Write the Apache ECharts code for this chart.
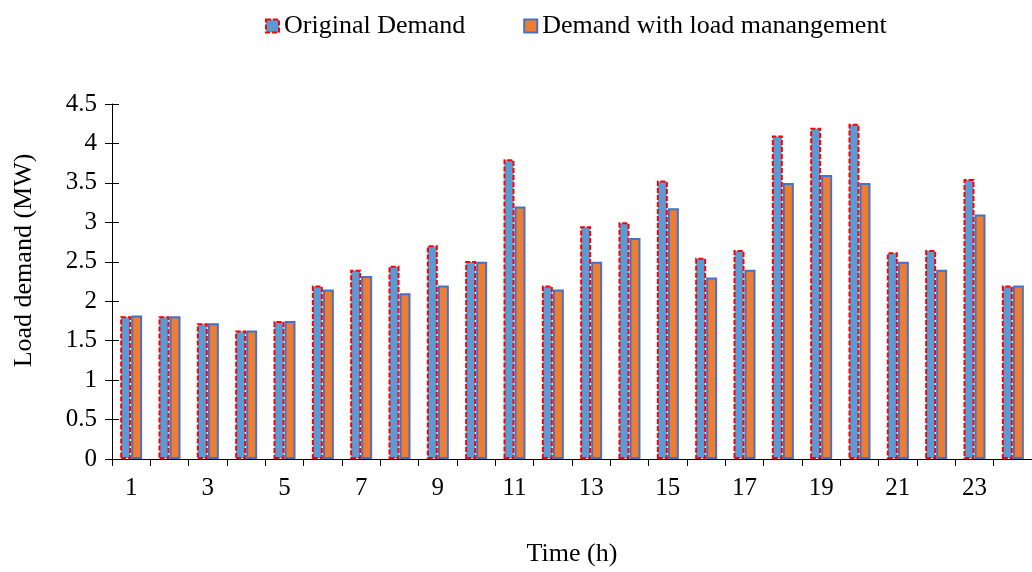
<!DOCTYPE html>
<html><head><meta charset="utf-8">
<script src="https://cdn.jsdelivr.net/npm/echarts@6/dist/echarts.min.js"></script>
<style>html,body{margin:0;padding:0;background:#fff}#c{width:1032px;height:572px}</style>
</head><body><div id="c"></div>
<script>
const hours = ['1','2','3','4','5','6','7','8','9','10','11','12','13','14','15','16','17','18','19','20','21','22','23','24'];
const originalDemand = [1.81,1.81,1.72,1.63,1.75,2.20,2.40,2.45,2.71,2.51,3.80,2.20,2.95,3.00,3.53,2.55,2.65,4.10,4.20,4.25,2.62,2.65,3.55,2.20];
const managedDemand  = [1.82,1.81,1.72,1.63,1.75,2.15,2.32,2.10,2.20,2.50,3.20,2.15,2.50,2.80,3.18,2.30,2.40,3.50,3.60,3.50,2.50,2.40,3.10,2.20];
const seriesNames = ['Original Demand','Demand with load manangement'];

const FONT = 'Liberation Serif';
const origStyle = {color:'#5B9BD5', borderColor:'#FF0000', borderWidth:2, borderType:[5,2]};
const manStyle = {color:'#ED7D31', borderColor:'#4472C4', borderWidth:2, borderType:'solid'};

const chart = echarts.init(document.getElementById('c'), null, {renderer:'canvas'});
chart.setOption({
  animation:false,
  backgroundColor:'#fff',
  textStyle:{fontFamily:FONT, color:'#000'},
  legend:{
    left:260, top:8, itemWidth:13, itemHeight:13, itemGap:58, icon:'rect',
    textStyle:{fontFamily:FONT, fontSize:26, color:'#000', padding:[0,0,0,0]},
    data:[
      {name:seriesNames[0], itemStyle:origStyle},
      {name:seriesNames[1], itemStyle:manStyle}
    ]
  },
  grid:{left:112, right:-2, top:104, bottom:112, containLabel:false},
  xAxis:{
    type:'category', data:hours, boundaryGap:true,
    axisLine:{lineStyle:{color:'#000', width:1}},
    axisTick:{show:true, interval:0, length:7, lineStyle:{color:'#000'}},
    axisLabel:{interval:1, fontFamily:FONT, fontSize:25, color:'#000', margin:17},
    name:'Time (h)', nameLocation:'middle', nameGap:82,
    nameTextStyle:{fontFamily:FONT, fontSize:26, color:'#000'}
  },
  yAxis:[{
    type:'value', min:0, max:4.5, interval:0.5, position:'left',
    axisLine:{show:true, lineStyle:{color:'#000', width:1}},
    axisTick:{show:true, length:7, lineStyle:{color:'#000'}},
    splitLine:{show:false},
    axisLabel:{fontFamily:FONT, fontSize:25, color:'#000', margin:15},
    name:'Load demand (MW)', nameLocation:'middle', nameGap:75, nameRotate:90,
    nameTextStyle:{fontFamily:FONT, fontSize:26, color:'#000', padding:[0,0,0,42]}
  },{
    type:'value', min:0, max:4.5, interval:0.5, position:'left', offset:0,
    axisLine:{show:false},
    axisTick:{show:true, inside:true, length:7, lineStyle:{color:'#000'}},
    splitLine:{show:false},
    axisLabel:{show:false}
  }],
  series:[
    {name:seriesNames[0], type:'bar', data:originalDemand, barWidth:11, barGap:'0%', itemStyle:origStyle, yAxisIndex:0},
    {name:seriesNames[1], type:'bar', data:managedDemand, barWidth:11, barGap:'0%', itemStyle:manStyle, yAxisIndex:0}
  ]
});
</script>
</body></html>
